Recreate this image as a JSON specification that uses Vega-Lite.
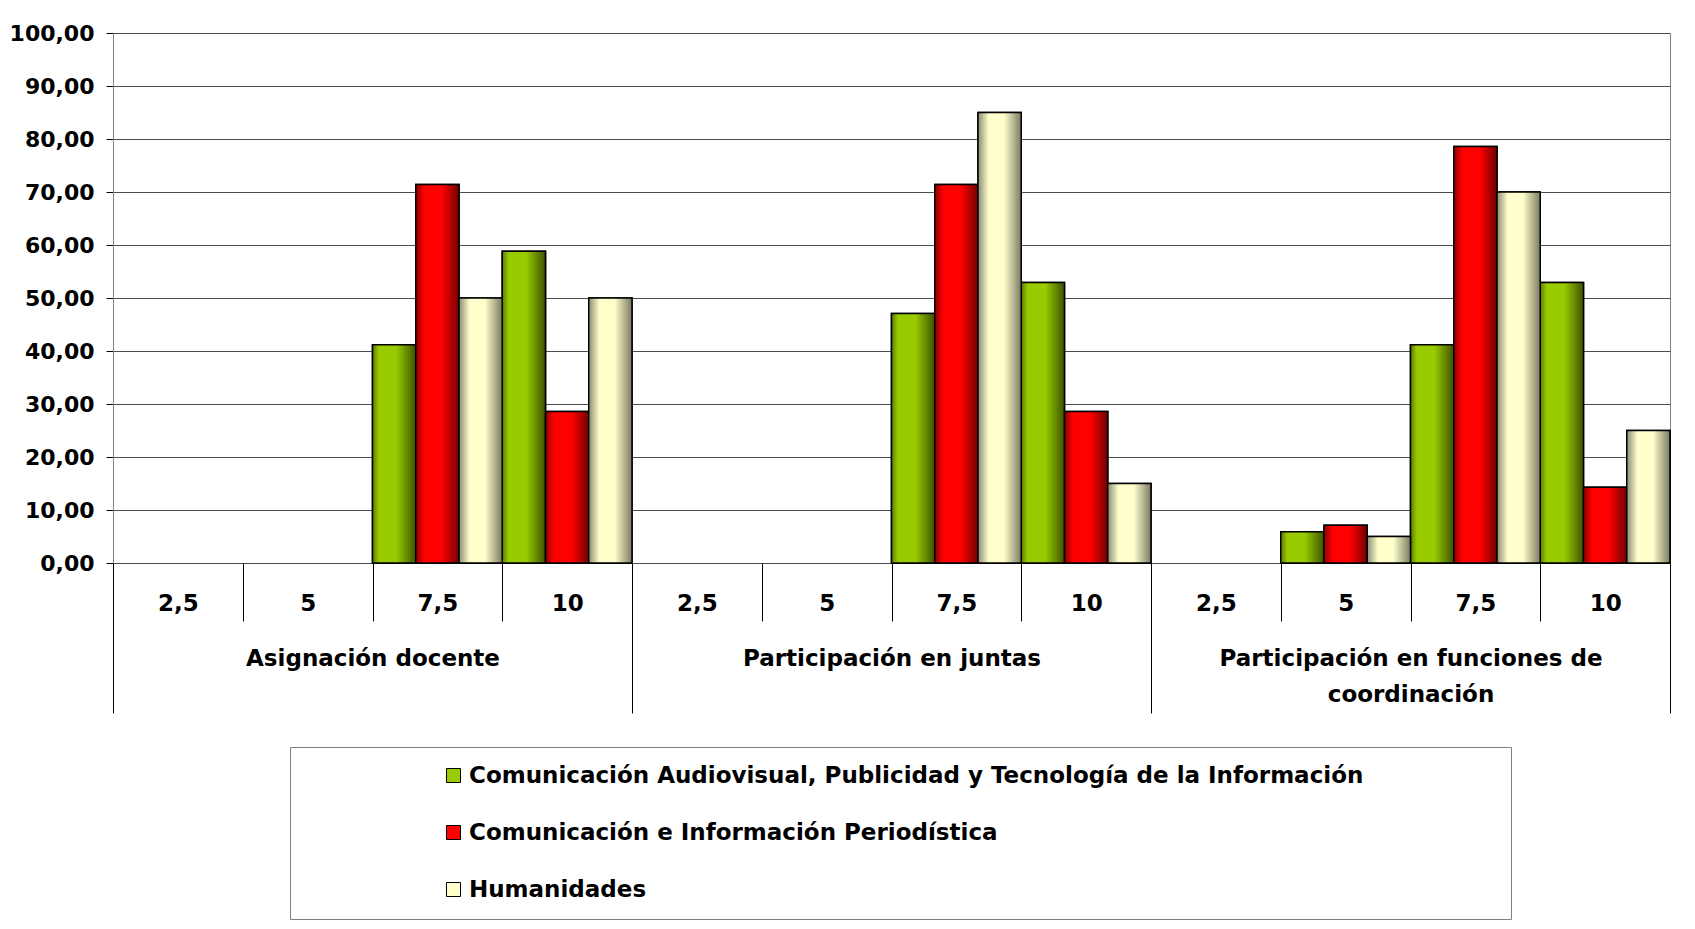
{
  "$schema": "https://vega.github.io/schema/vega-lite/v6.json",
  "width": 1557,
  "height": 530,
  "autosize": {"type": "none"},
  "padding": {"left": 113, "top": 33, "right": 25, "bottom": 366},
  "background": "white",
  "config": {
    "view": {"stroke": "#808080", "strokeWidth": 1},
    "font": "DejaVu Sans"
  },
  "data": {
    "values": [
      {"grupo": "Asignación docente", "clave": "A|7,5", "serie": "Comunicación Audiovisual, Publicidad y Tecnología de la Información", "valor": 41.18},
      {"grupo": "Asignación docente", "clave": "A|7,5", "serie": "Comunicación e Información Periodística", "valor": 71.43},
      {"grupo": "Asignación docente", "clave": "A|7,5", "serie": "Humanidades", "valor": 50},
      {"grupo": "Asignación docente", "clave": "A|10", "serie": "Comunicación Audiovisual, Publicidad y Tecnología de la Información", "valor": 58.82},
      {"grupo": "Asignación docente", "clave": "A|10", "serie": "Comunicación e Información Periodística", "valor": 28.57},
      {"grupo": "Asignación docente", "clave": "A|10", "serie": "Humanidades", "valor": 50},
      {"grupo": "Participación en juntas", "clave": "J|7,5", "serie": "Comunicación Audiovisual, Publicidad y Tecnología de la Información", "valor": 47.06},
      {"grupo": "Participación en juntas", "clave": "J|7,5", "serie": "Comunicación e Información Periodística", "valor": 71.43},
      {"grupo": "Participación en juntas", "clave": "J|7,5", "serie": "Humanidades", "valor": 85},
      {"grupo": "Participación en juntas", "clave": "J|10", "serie": "Comunicación Audiovisual, Publicidad y Tecnología de la Información", "valor": 52.94},
      {"grupo": "Participación en juntas", "clave": "J|10", "serie": "Comunicación e Información Periodística", "valor": 28.57},
      {"grupo": "Participación en juntas", "clave": "J|10", "serie": "Humanidades", "valor": 15},
      {"grupo": "Participación en funciones de|coordinación", "clave": "C|5", "serie": "Comunicación Audiovisual, Publicidad y Tecnología de la Información", "valor": 5.88},
      {"grupo": "Participación en funciones de|coordinación", "clave": "C|5", "serie": "Comunicación e Información Periodística", "valor": 7.14},
      {"grupo": "Participación en funciones de|coordinación", "clave": "C|5", "serie": "Humanidades", "valor": 5},
      {"grupo": "Participación en funciones de|coordinación", "clave": "C|7,5", "serie": "Comunicación Audiovisual, Publicidad y Tecnología de la Información", "valor": 41.18},
      {"grupo": "Participación en funciones de|coordinación", "clave": "C|7,5", "serie": "Comunicación e Información Periodística", "valor": 78.57},
      {"grupo": "Participación en funciones de|coordinación", "clave": "C|7,5", "serie": "Humanidades", "valor": 70},
      {"grupo": "Participación en funciones de|coordinación", "clave": "C|10", "serie": "Comunicación Audiovisual, Publicidad y Tecnología de la Información", "valor": 52.94},
      {"grupo": "Participación en funciones de|coordinación", "clave": "C|10", "serie": "Comunicación e Información Periodística", "valor": 14.29},
      {"grupo": "Participación en funciones de|coordinación", "clave": "C|10", "serie": "Humanidades", "valor": 25}
    ]
  },
  "layer": [
    {
      "mark": {"type": "bar", "stroke": "black", "strokeWidth": 1.5},
      "encoding": {
        "x": {
          "field": "clave", "type": "nominal",
          "scale": {"domain": ["A|2,5", "A|5", "A|7,5", "A|10", "J|2,5", "J|5", "J|7,5", "J|10", "C|2,5", "C|5", "C|7,5", "C|10"], "paddingInner": 0, "paddingOuter": 0},
          "axis": {
            "orient": "bottom", "title": null, "domain": false, "grid": false,
            "tickBand": "extent", "tickSize": 58, "tickColor": "#000000", "tickWidth": 1,
            "labelExpr": "split(datum.label, '|')[1]", "labelAngle": 0,
            "labelFont": "DejaVu Sans", "labelFontWeight": "bold", "labelFontSize": 23, "labelColor": "#000000",
            "labelBaseline": "top", "labelPadding": -29
          }
        },
        "xOffset": {"field": "serie", "type": "nominal", "scale": {"domain": ["Comunicación Audiovisual, Publicidad y Tecnología de la Información", "Comunicación e Información Periodística", "Humanidades"], "paddingInner": 0, "paddingOuter": 0}},
        "y": {
          "field": "valor", "type": "quantitative",
          "scale": {"domain": [0, 100], "nice": false},
          "axis": {
            "title": null, "values": [0, 10, 20, 30, 40, 50, 60, 70, 80, 90, 100],
            "labelExpr": "replace(format(datum.value, '.2f'), '.', ',')",
            "labelFont": "DejaVu Sans", "labelFontWeight": "bold", "labelFontSize": 22, "labelColor": "#000000",
            "labelPadding": 12, "tickSize": 7, "tickColor": "#000000",
            "domainColor": "#808080", "grid": true, "gridColor": "#4d4d4d", "gridWidth": 1
          }
        },
        "color": {
          "field": "serie", "type": "nominal",
          "scale": {"domain": ["Comunicación Audiovisual, Publicidad y Tecnología de la Información", "Comunicación e Información Periodística", "Humanidades"], "range": ["#99cc00", "#ff0000", "#ffffcc"]},
          "legend": {
            "orient": "none", "legendX": 177, "legendY": 714, "direction": "vertical",
            "title": "\u00a0", "titleOrient": "right", "titlePadding": 131, "titleFontSize": 20,
            "padding": 17, "strokeColor": "#808080", "fillColor": "white",
            "symbolType": "square", "symbolSize": 196, "symbolStrokeColor": "black", "symbolStrokeWidth": 1,
            "symbolOffset": 135, "labelOffset": 4,
            "labelFont": "DejaVu Sans", "labelFontWeight": "bold", "labelFontSize": 23, "labelColor": "#000000",
            "labelLimit": 1400, "rowPadding": 33
          }
        }
      }
    },
    {
      "transform": [{"filter": "datum.serie === 'Comunicación Audiovisual, Publicidad y Tecnología de la Información'"}],
      "mark": {"type": "bar", "stroke": "black", "strokeWidth": 1.5,
        "fill": {"gradient": "linear", "x1": 0, "y1": 0, "x2": 1, "y2": 0, "stops": [
          {"offset": 0, "color": "#5c7a00"}, {"offset": 0.15, "color": "#99cc00"}, {"offset": 0.55, "color": "#99cc00"}, {"offset": 1, "color": "#3d5200"}]}},
      "encoding": {
        "x": {"field": "clave", "type": "nominal", "scale": {"domain": ["A|2,5", "A|5", "A|7,5", "A|10", "J|2,5", "J|5", "J|7,5", "J|10", "C|2,5", "C|5", "C|7,5", "C|10"], "paddingInner": 0, "paddingOuter": 0}, "axis": null},
        "xOffset": {"field": "serie", "type": "nominal", "scale": {"domain": ["Comunicación Audiovisual, Publicidad y Tecnología de la Información", "Comunicación e Información Periodística", "Humanidades"], "paddingInner": 0, "paddingOuter": 0}},
        "y": {"field": "valor", "type": "quantitative"}
      }
    },
    {
      "transform": [{"filter": "datum.serie === 'Comunicación e Información Periodística'"}],
      "mark": {"type": "bar", "stroke": "black", "strokeWidth": 1.5,
        "fill": {"gradient": "linear", "x1": 0, "y1": 0, "x2": 1, "y2": 0, "stops": [
          {"offset": 0, "color": "#8a0000"}, {"offset": 0.2, "color": "#ff0000"}, {"offset": 0.6, "color": "#ff0000"}, {"offset": 1, "color": "#700000"}]}},
      "encoding": {
        "x": {"field": "clave", "type": "nominal", "scale": {"domain": ["A|2,5", "A|5", "A|7,5", "A|10", "J|2,5", "J|5", "J|7,5", "J|10", "C|2,5", "C|5", "C|7,5", "C|10"], "paddingInner": 0, "paddingOuter": 0}, "axis": null},
        "xOffset": {"field": "serie", "type": "nominal", "scale": {"domain": ["Comunicación Audiovisual, Publicidad y Tecnología de la Información", "Comunicación e Información Periodística", "Humanidades"], "paddingInner": 0, "paddingOuter": 0}},
        "y": {"field": "valor", "type": "quantitative"}
      }
    },
    {
      "transform": [{"filter": "datum.serie === 'Humanidades'"}],
      "mark": {"type": "bar", "stroke": "black", "strokeWidth": 1.5,
        "fill": {"gradient": "linear", "x1": 0, "y1": 0, "x2": 1, "y2": 0, "stops": [
          {"offset": 0, "color": "#8c8c74"}, {"offset": 0.25, "color": "#ffffcc"}, {"offset": 0.6, "color": "#ffffcc"}, {"offset": 1, "color": "#7a7a62"}]}},
      "encoding": {
        "x": {"field": "clave", "type": "nominal", "scale": {"domain": ["A|2,5", "A|5", "A|7,5", "A|10", "J|2,5", "J|5", "J|7,5", "J|10", "C|2,5", "C|5", "C|7,5", "C|10"], "paddingInner": 0, "paddingOuter": 0}, "axis": null},
        "xOffset": {"field": "serie", "type": "nominal", "scale": {"domain": ["Comunicación Audiovisual, Publicidad y Tecnología de la Información", "Comunicación e Información Periodística", "Humanidades"], "paddingInner": 0, "paddingOuter": 0}},
        "y": {"field": "valor", "type": "quantitative"}
      }
    },
    {
      "mark": {"type": "rule", "opacity": 0},
      "encoding": {
        "x": {
          "field": "grupo", "type": "nominal",
          "scale": {"domain": ["Asignación docente", "Participación en juntas", "Participación en funciones de|coordinación"], "paddingInner": 0, "paddingOuter": 0},
          "axis": {
            "orient": "bottom", "title": null, "domain": false, "grid": false,
            "tickBand": "extent", "tickSize": 150, "tickColor": "#000000", "tickWidth": 1,
            "labelExpr": "split(datum.label, '|')", "labelAngle": 0, "labelLimit": 700, "labelOverlap": false,
            "labelFont": "DejaVu Sans", "labelFontWeight": "bold", "labelFontSize": 23, "labelColor": "#000000",
            "labelBaseline": "top", "labelPadding": -66, "labelLineHeight": 36
          }
        }
      }
    }
  ],
  "resolve": {"scale": {"x": "independent"}}
}
